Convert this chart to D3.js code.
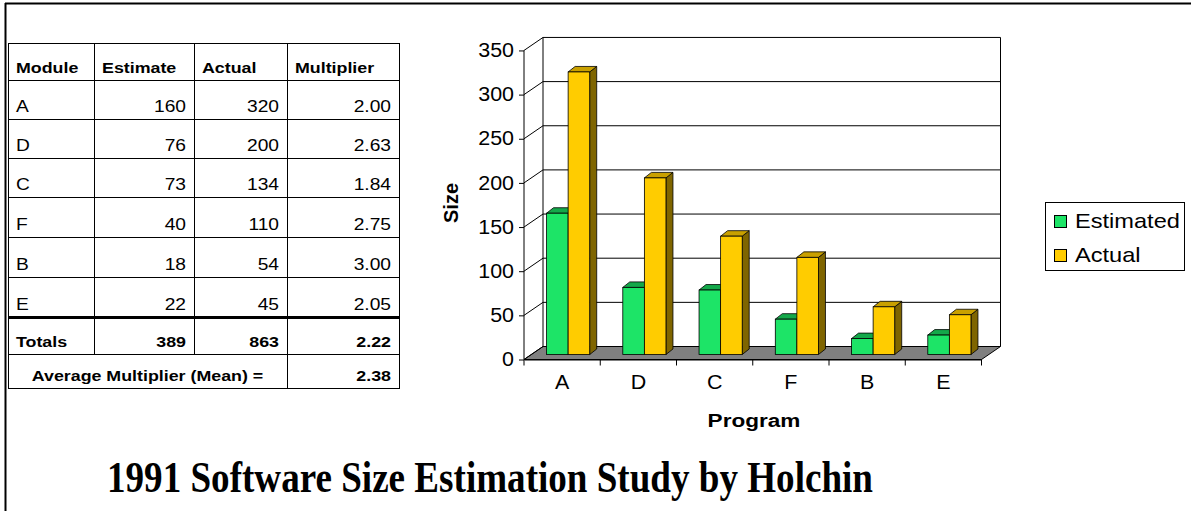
<!DOCTYPE html>
<html>
<head>
<meta charset="utf-8">
<script src="https://cdn.jsdelivr.net/npm/d3@7/dist/d3.min.js"></script>
<style>
  html, body { margin: 0; padding: 0; background: #fff; }
  svg { display: block; }
</style>
</head>
<body>
<svg id="chart" width="1191" height="511"></svg>
<script>
// ---- data ----
const modules    = ["A", "D", "C", "F", "B", "E"];
const estimated  = [160, 76, 73, 40, 18, 22];
const actual     = [320, 200, 134, 110, 54, 45];
const multiplier = ["2.00", "2.63", "1.84", "2.75", "3.00", "2.05"];
const totals     = ["Totals", "389", "863", "2.22"];
const meanLabel  = "Average Multiplier (Mean) =";
const meanValue  = "2.38";
const headers    = ["Module", "Estimate", "Actual", "Multiplier"];
const seriesNames = ["Estimated", "Actual"];
const yTicks     = [0, 50, 100, 150, 200, 250, 300, 350];
const titleText  = "1991 Software Size Estimation Study by Holchin";

const svg = d3.select("#chart");
const SANS = "'Liberation Sans', Arial, Helvetica, sans-serif";
const WIDE = 1.15;   // the slide's text is set slightly wide

// text placed at (x, y) and widened horizontally around that anchor
function wideText(g, x, y, txt, opts) {
  const t = g.append("text")
    .attr("transform", `translate(${x},${y}) scale(${opts.sx || WIDE},1)`)
    .attr("text-anchor", opts.anchor || "start")
    .attr("font-family", SANS)
    .attr("font-size", opts.size)
    .attr("font-weight", opts.bold ? "bold" : "normal")
    .attr("fill", "#000")
    .text(txt);
  return t;
}

// ---- slide frame ----
svg.append("line").attr("x1", 5).attr("x2", 1191).attr("y1", 3.5).attr("y2", 3.5)
  .attr("stroke", "#000").attr("stroke-width", 2);
svg.append("line").attr("x1", 5.5).attr("x2", 5.5).attr("y1", 3).attr("y2", 511)
  .attr("stroke", "#000").attr("stroke-width", 2);

// ---- table ----
const colX = [8, 94, 194, 287, 399];
const rowY = [43, 80, 119, 158, 197, 237, 277, 317, 354, 388];
const tbl = svg.append("g");

tbl.append("rect").attr("x", colX[0] + 0.5).attr("y", rowY[0] + 0.5)
  .attr("width", colX[4] - colX[0]).attr("height", rowY[9] - rowY[0])
  .attr("fill", "none").attr("stroke", "#000").attr("stroke-width", 1);
rowY.slice(1, 9).forEach((y, i) => {
  tbl.append("line").attr("x1", colX[0]).attr("x2", colX[4])
    .attr("y1", y + 0.5).attr("y2", y + 0.5)
    .attr("stroke", "#000").attr("stroke-width", i === 6 ? 3 : 1);
});
// vertical rules (the mean row merges the first three cells)
colX.slice(1, 4).forEach((x, i) => {
  const yEnd = i < 2 ? rowY[8] : rowY[9];
  tbl.append("line").attr("x1", x + 0.5).attr("x2", x + 0.5)
    .attr("y1", rowY[0]).attr("y2", yEnd).attr("stroke", "#000").attr("stroke-width", 1);
});

function cellText(col, row, txt, bold, align) {
  const x = align === "end" ? colX[col + 1] - 8 : colX[col] + 8;
  const opts = bold ? { size: 15.5, bold: true, anchor: align }
                    : { size: 16, bold: false, anchor: align, sx: 1.2 };
  wideText(tbl, x, rowY[row + 1] - 7, txt, opts);
}
headers.forEach((h, c) => cellText(c, 0, h, true, "start"));
modules.forEach((m, r) => {
  cellText(0, r + 1, m, false, "start");
  cellText(1, r + 1, String(estimated[r]), false, "end");
  cellText(2, r + 1, String(actual[r]), false, "end");
  cellText(3, r + 1, multiplier[r], false, "end");
});
cellText(0, 7, totals[0], true, "start");
cellText(1, 7, totals[1], true, "end");
cellText(2, 7, totals[2], true, "end");
cellText(3, 7, totals[3], true, "end");
wideText(tbl, (colX[0] + colX[3]) / 2, rowY[9] - 7, meanLabel, { size: 15.5, bold: true, anchor: "middle" });
cellText(3, 8, meanValue, true, "end");

// ---- 3D column chart ----
const frontX0 = 524, frontX1 = 981.5;
const depth = { dx: 19, dy: -13 };          // floor depth projection
const barOff = { dx: 6, dy: -5 };           // front face of the columns
const barDepth = { dx: 7, dy: -5.5 };       // thickness of the columns

const x = d3.scaleBand().domain(modules).range([frontX0, frontX1]).paddingInner(0).paddingOuter(0);
const y = d3.scaleLinear().domain([0, 350]).range([359.5, 50.45]);
const bw = x.bandwidth() * 0.283;

const chart = svg.append("g");
const yMax = y.domain()[1];

// floor
chart.append("path")
  .attr("d", `M${frontX0},${y(0)} L${frontX1},${y(0)} L${frontX1 + depth.dx},${y(0) + depth.dy} L${frontX0 + depth.dx},${y(0) + depth.dy} Z`)
  .attr("fill", "#808080").attr("stroke", "#000").attr("stroke-width", 1);

// back wall gridlines and side-wall diagonals
yTicks.forEach(t => {
  const yb = y(t) + depth.dy;
  if (t > 0) {
    chart.append("line").attr("x1", frontX0 + depth.dx).attr("x2", frontX1 + depth.dx)
      .attr("y1", yb).attr("y2", yb).attr("stroke", "#000").attr("stroke-width", 1);
  }
  chart.append("line").attr("x1", frontX0).attr("y1", y(t))
    .attr("x2", frontX0 + depth.dx).attr("y2", yb).attr("stroke", "#000").attr("stroke-width", 1);
});
// wall edges
chart.append("line").attr("x1", frontX0 + depth.dx).attr("x2", frontX0 + depth.dx)
  .attr("y1", y(yMax) + depth.dy).attr("y2", y(0) + depth.dy).attr("stroke", "#000");
chart.append("line").attr("x1", frontX1 + depth.dx).attr("x2", frontX1 + depth.dx)
  .attr("y1", y(yMax) + depth.dy).attr("y2", y(0) + depth.dy).attr("stroke", "#000");
chart.append("line").attr("x1", frontX0).attr("x2", frontX0)
  .attr("y1", y(yMax)).attr("y2", y(0)).attr("stroke", "#000");

// y axis ticks and labels
const yAxis = d3.axisLeft(y).tickValues(yTicks).tickSize(5).tickPadding(4);
const yg = chart.append("g").attr("transform", `translate(${frontX0},0)`).call(yAxis);
yg.select(".domain").remove();
yg.selectAll("line").attr("stroke", "#000");
yg.selectAll("text").attr("font-family", SANS).attr("font-size", 19.5).attr("fill", "#000")
  .attr("x", null)
  .attr("transform", `translate(-10,0) scale(1.1,1)`);

// x axis along the front edge of the floor
const xAxis = d3.axisBottom(x).tickSize(0).tickPadding(16);
const xg = chart.append("g").attr("transform", `translate(0,${y(0)})`).call(xAxis);
xg.select(".domain").attr("stroke", "#000");
xg.selectAll("text").attr("font-family", SANS).attr("font-size", 19.5).attr("fill", "#000")
  .attr("transform", "scale(1.1,1)");
// category boundary ticks
const bounds = modules.map(m => x(m)).concat([frontX1]);
chart.selectAll(".btick").data(bounds).join("line").attr("class", "btick")
  .attr("x1", d => d).attr("x2", d => d).attr("y1", y(0)).attr("y2", y(0) + 6)
  .attr("stroke", "#000");

// columns
const palette = [
  { face: "#1de467", top: "#14a84a", side: "#0f8a3a" },
  { face: "#ffcc00", top: "#c9a000", side: "#7f6500" }
];
const seriesVals = [estimated, actual];

function drawColumn(g, x0, v, col) {
  const w = bw;
  const yb = y(0) + barOff.dy;
  const yt = y(v) + barOff.dy;
  const xl = x0, xr = x0 + w;
  const { dx, dy } = barDepth;
  g.append("path").attr("d", `M${xr},${yb} L${xr + dx},${yb + dy} L${xr + dx},${yt + dy} L${xr},${yt} Z`)
    .attr("fill", col.side).attr("stroke", "#000").attr("stroke-width", 0.8).attr("stroke-linejoin", "round");
  g.append("path").attr("d", `M${xl},${yt} L${xl + dx},${yt + dy} L${xr + dx},${yt + dy} L${xr},${yt} Z`)
    .attr("fill", col.top).attr("stroke", "#000").attr("stroke-width", 0.8).attr("stroke-linejoin", "round");
  g.append("rect").attr("x", xl).attr("y", yt).attr("width", w).attr("height", yb - yt)
    .attr("fill", col.face).attr("stroke", "#000").attr("stroke-width", 0.8);
}

const barsG = chart.append("g");
modules.forEach((m, i) => {
  const center = x(m) + x.bandwidth() / 2 + barOff.dx;
  const start = center - bw;
  // green first, yellow drawn after so it covers the green side face
  seriesVals.forEach((vals, s) => {
    drawColumn(barsG, start + s * bw, vals[i], palette[s]);
  });
});

// axis titles
svg.append("text").attr("transform", "translate(458,203) rotate(-90)")
  .attr("text-anchor", "middle").attr("font-family", SANS).attr("font-size", 20)
  .attr("font-weight", "bold").text("Size");
wideText(svg, 754, 427, "Program", { size: 18.5, bold: true, anchor: "middle", sx: 1.22 });

// legend
const lg = svg.append("g");
lg.append("rect").attr("x", 1045.5).attr("y", 202.5).attr("width", 139).attr("height", 68)
  .attr("fill", "#fff").attr("stroke", "#000").attr("stroke-width", 1);
seriesNames.forEach((n, i) => {
  const yy = 215 + i * 34;
  lg.append("rect").attr("x", 1054.5).attr("y", yy + 0.5).attr("width", 12).attr("height", 12)
    .attr("fill", palette[i].face).attr("stroke", "#000").attr("stroke-width", 1);
  wideText(lg, 1075, yy + 13, n, { size: 20, sx: 1.18 });
});

// slide title
svg.append("text").attr("x", 107).attr("y", 492)
  .attr("font-family", "'Liberation Serif', 'Times New Roman', serif")
  .attr("font-size", 44).attr("font-weight", "bold")
  .attr("textLength", 766).attr("lengthAdjust", "spacingAndGlyphs")
  .text(titleText);
</script>
</body>
</html>
